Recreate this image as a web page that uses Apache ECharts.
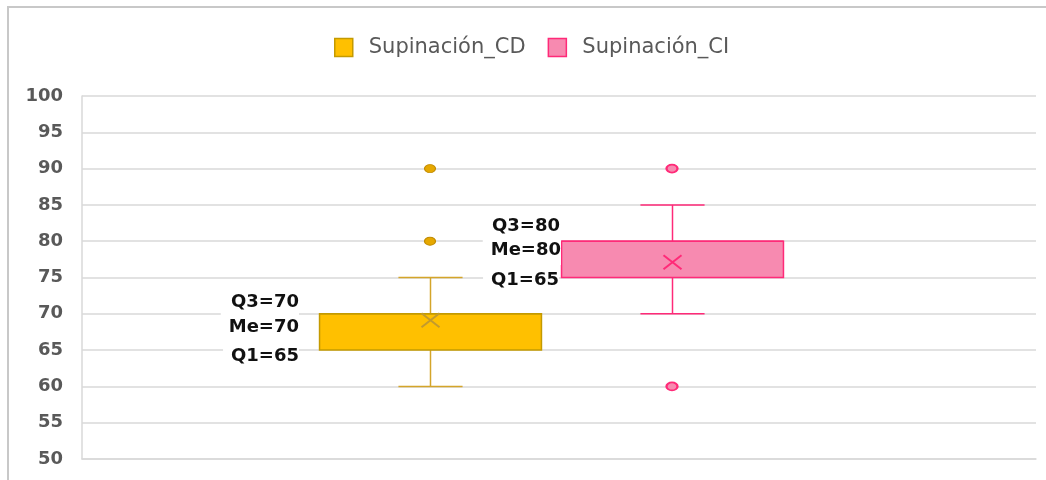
<!DOCTYPE html>
<html>
<head>
<meta charset="utf-8">
<script src="https://cdn.jsdelivr.net/npm/echarts@6/dist/echarts.min.js"></script>
<style>
  html, body { margin: 0; padding: 0; background: #ffffff; }
  #chart { width: 1046px; height: 480px; }
</style>
</head>
<body>
<div id="chart"></div>
<script>
// Box-and-whisker data: [min, Q1, median, Q3, max]
const categories = ['Supinación_CD', 'Supinación_CI'];
const statsCD = [60, 65, 70, 70, 75];
const statsCI = [70, 75, 80, 80, 85];
const meanCD = 69.1;
const meanCI = 77.1;
const outliersCD = [80, 90];
const outliersCI = [90, 60];
const yMin = 50;
const yMax = 100;
const yStep = 5;
const notesCD = ['Q3=70', 'Me=70', 'Q1=65'];
const notesCI = ['Q3=80', 'Me=80', 'Q1=65'];

const palette = {
  CD: { fill: '#FFC000', border: '#C49A00', whisker: '#D4A52A', mean: '#C29A2E', dot: '#E6A800', dotBorder: '#C08A00' },
  CI: { fill: '#F78AB0', border: '#FF2A78', whisker: '#FF2A78', mean: '#FF2A78', dot: '#F78AB0', dotBorder: '#FF2A78' }
};

const BOX_RATIO = 0.917;
const CAP_RATIO = 0.265;

function boxRenderer(c) {
  return function (params, api) {
    const cat = api.value(0);
    const pMin = api.coord([cat, api.value(1)]);
    const pQ1 = api.coord([cat, api.value(2)]);
    const pMed = api.coord([cat, api.value(3)]);
    const pQ3 = api.coord([cat, api.value(4)]);
    const pMax = api.coord([cat, api.value(5)]);
    const pMean = api.coord([cat, api.value(6)]);
    const band = api.size([1, 0])[0];
    const cx = Math.round(pQ1[0]) + 0.5;
    const bw = band * BOX_RATIO;
    const cw = band * CAP_RATIO;
    const lineStyle = { stroke: c.whisker, lineWidth: 1.5, fill: null };
    return {
      type: 'group',
      children: [
        { type: 'line', shape: { x1: cx, y1: pMax[1], x2: cx, y2: pQ3[1] }, style: lineStyle },
        { type: 'line', shape: { x1: cx, y1: pQ1[1], x2: cx, y2: pMin[1] }, style: lineStyle },
        { type: 'line', shape: { x1: cx - cw / 2, y1: pMax[1], x2: cx + cw / 2, y2: pMax[1] }, style: lineStyle },
        { type: 'line', shape: { x1: cx - cw / 2, y1: pMin[1], x2: cx + cw / 2, y2: pMin[1] }, style: lineStyle },
        {
          type: 'rect',
          shape: { x: cx - bw / 2, y: pQ3[1], width: bw, height: pQ1[1] - pQ3[1] },
          style: { fill: c.fill, stroke: c.border, lineWidth: 1.5 }
        },
        { type: 'line', shape: { x1: cx - bw / 2, y1: pMed[1], x2: cx + bw / 2, y2: pMed[1] }, style: { stroke: c.border, lineWidth: 1.5 } },
        {
          type: 'polyline',
          shape: { points: [[cx - 9, pMean[1] - 7], [cx + 9, pMean[1] + 7]] },
          style: { stroke: c.mean, lineWidth: 2, fill: null }
        },
        {
          type: 'polyline',
          shape: { points: [[cx + 9, pMean[1] - 7], [cx - 9, pMean[1] + 7]] },
          style: { stroke: c.mean, lineWidth: 2, fill: null }
        }
      ]
    };
  };
}

const chart = echarts.init(document.getElementById('chart'), null, { renderer: 'canvas' });

// Annotation text boxes (white fill, like inserted text boxes)
const noteFont = {
  fontSize: 18, fontWeight: 'bold', fontFamily: '"DejaVu Sans"', fill: '#111111',
  align: 'right', verticalAlign: 'middle', backgroundColor: '#ffffff', padding: [6, 0, 6, 8]
};
function note(text, x, y) {
  return { type: 'text', x: x, y: y, silent: true, z: 10, style: Object.assign({ text: text }, noteFont) };
}

chart.setOption({
  animation: false,
  backgroundColor: '#ffffff',
  legend: {
    left: 334,
    top: 37,
    padding: 0,
    itemWidth: 18,
    itemHeight: 18,
    itemGap: 22,
    icon: 'rect',
    textStyle: { fontSize: 21, fontFamily: '"DejaVu Sans"', color: '#595959', padding: [0, 0, 0, 11] },
    data: [
      { name: categories[0], itemStyle: { color: palette.CD.fill, borderColor: palette.CD.border, borderWidth: 1.5 } },
      { name: categories[1], itemStyle: { color: palette.CI.fill, borderColor: palette.CI.border, borderWidth: 1.5 } }
    ]
  },
  grid: [
    { left: 82, right: 10, top: 96, bottom: 21, containLabel: false },
    { left: 309, right: 253, top: 96, bottom: 21, containLabel: false }
  ],
  xAxis: [
    {
      gridIndex: 0, type: 'category', data: [''],
      axisLine: { show: true, lineStyle: { color: '#D9D9D9', width: 1.5 } },
      axisTick: { show: false }, axisLabel: { show: false }, splitLine: { show: false }
    },
    { gridIndex: 1, type: 'category', data: categories, show: false }
  ],
  yAxis: [
    {
      gridIndex: 0, type: 'value', min: yMin, max: yMax, interval: yStep,
      axisLine: { show: true, lineStyle: { color: '#D9D9D9', width: 1.5 } },
      axisTick: { show: false },
      axisLabel: { fontSize: 18, fontWeight: 'bold', fontFamily: '"DejaVu Sans"', color: '#595959', margin: 19 },
      splitLine: { show: true, lineStyle: { color: '#D9D9D9', width: 1.5 } }
    },
    { gridIndex: 1, type: 'value', min: yMin, max: yMax, show: false }
  ],
  series: [
    {
      name: categories[0], type: 'custom', xAxisIndex: 1, yAxisIndex: 1,
      renderItem: boxRenderer(palette.CD),
      data: [[0].concat(statsCD, [meanCD])],
      itemStyle: { color: palette.CD.fill },
      z: 3
    },
    {
      name: categories[1], type: 'custom', xAxisIndex: 1, yAxisIndex: 1,
      renderItem: boxRenderer(palette.CI),
      data: [[1].concat(statsCI, [meanCI])],
      itemStyle: { color: palette.CI.fill },
      z: 3
    },
    {
      name: categories[0], type: 'scatter', xAxisIndex: 1, yAxisIndex: 1,
      symbol: 'circle', symbolSize: [11, 8],
      itemStyle: { color: palette.CD.dot, borderColor: palette.CD.dotBorder, borderWidth: 1, opacity: 1 },
      data: outliersCD.map(v => [0, v]),
      z: 4
    },
    {
      name: categories[1], type: 'scatter', xAxisIndex: 1, yAxisIndex: 1,
      symbol: 'circle', symbolSize: [11, 8],
      itemStyle: { color: palette.CI.dot, borderColor: palette.CI.dotBorder, borderWidth: 2, opacity: 1 },
      data: outliersCI.map(v => [1, v]),
      z: 4
    }
  ],
  graphic: [
    {
      type: 'rect', silent: true, z: -1,
      shape: { x: 8, y: 7, width: 1100, height: 520 },
      style: { fill: null, stroke: '#C8C8C8', lineWidth: 2 }
    },
    note(notesCD[0], 299, 302),
    note(notesCD[1], 299, 327),
    note(notesCD[2], 299, 356),
    note(notesCI[0], 560, 226),
    note(notesCI[1], 561, 250),
    note(notesCI[2], 559, 280)
  ]
});
</script>
</body>
</html>
